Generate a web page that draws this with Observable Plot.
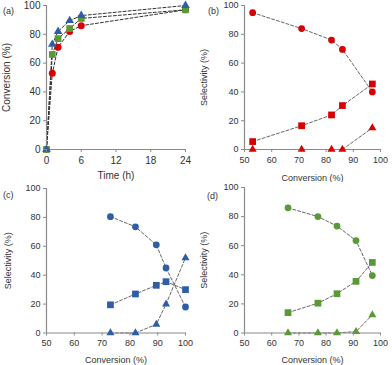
<!DOCTYPE html>
<html>
<head>
<meta charset="utf-8">
<script src="https://cdn.jsdelivr.net/npm/d3@7"></script>
<script src="https://cdn.jsdelivr.net/npm/@observablehq/plot@0.6"></script>
<style>
  html, body { margin: 0; padding: 0; background: #fff; }
  #wrap { position: relative; width: 392px; height: 365px; font-family: "Liberation Sans", Arial, sans-serif; }
  .pnl { position: absolute; }
  .tag { position: absolute; font-size: 9px; color: #333; }
</style>
</head>
<body>
<div id="wrap"></div>
<script>
// ---- data ----
const timeH = [0, 1, 2, 4, 6, 24];
const convRed = [0, 53, 71, 82, 86, 97];
const convGreen = [0, 66, 77, 84, 91, 97];
const convBlue = [0, 73, 82, 89.5, 93, 100];

// panel (b) red catalyst: x = conversion
const convB = [53, 71, 82, 86, 97];
const selB_circle = [95, 84, 76, 69.5, 40];
const selB_square = [5.5, 16.5, 24, 30.5, 45.5];
const selB_triangle = [0, 0, 0, 0, 15];

// panel (c) blue catalyst
const convC = [73, 82, 89.5, 93, 100];
const selC_circle = [80.5, 73.5, 61, 45, 18];
const selC_square = [19.5, 27, 33, 35.5, 30];
const selC_triangle = [0, 0, 6, 20, 52];

// panel (d) green catalyst
const convD = [66, 77, 84, 91, 97];
const selD_circle = [86, 80, 73.5, 63.5, 39.5];
const selD_square = [14, 20.5, 27, 35.5, 48.5];
const selD_triangle = [0, 0, 0, 1, 12.5];

const xTicksTime = [0, 6, 12, 18, 24];
const xTicksConv = [50, 60, 70, 80, 90, 100];
const yTicks = [0, 20, 40, 60, 80, 100];
const panelTags = ["(a)", "(b)", "(c)", "(d)"];

const RED = "#d90000", BLUE = "#2f5ea8", GREEN = "#5a9a36";
const AXIS = "#8a8a8a";
const TXT = "#333";

function panel(o) {
  const marks = [];
  for (const s of o.series) {
    const rows = o.xs.map((x, i) => ({x, y: s.values[i]}));
    marks.push(Plot.line(rows, {x: "x", y: "y", stroke: o.lineColor, strokeWidth: o.lineWidth, strokeDasharray: "3,2"}));
  }
  marks.push(Plot.ruleX([o.xDomain[0]], {y1: 0, y2: 100, stroke: AXIS, strokeWidth: 1.2}));
  marks.push(Plot.ruleY([0], {x1: o.xDomain[0], x2: o.xDomain[1], stroke: AXIS, strokeWidth: 1.2}));
  for (const s of o.series) {
    const rows = o.xs.map((x, i) => ({x, y: s.values[i]}));
    marks.push(Plot.dot(rows, {x: "x", y: "y", symbol: () => s.symbol, fill: s.color, r: s.r, stroke: "none"}));
  }
  marks.push(Plot.axisY({ticks: yTicks, tickSize: 3, tickPadding: 3, stroke: AXIS, fontSize: o.tickFont, color: TXT,
    label: o.yLabel, labelAnchor: "center", labelArrow: "none", labelOffset: o.yLabelOffset}));
  marks.push(Plot.axisX({ticks: o.xTicks, tickSize: 3, tickPadding: 4, stroke: AXIS, fontSize: o.tickFont, color: TXT,
    label: o.xLabel, labelAnchor: "center", labelArrow: "none", labelOffset: o.xLabelOffset}));
  const svg = Plot.plot({
    width: 196, height: o.height,
    marginLeft: o.ml, marginRight: o.mr, marginTop: o.mt, marginBottom: o.mb,
    style: {fontFamily: "Liberation Sans, Arial, sans-serif", fontSize: o.labelFont + "px", fontWeight: "400", color: TXT, background: "transparent"},
    x: {domain: o.xDomain},
    y: {domain: [0, 100]},
    marks
  });
  svg.classList.add("pnl");
  svg.style.left = o.left + "px";
  svg.style.top = o.top + "px";
  return svg;
}

const wrap = document.getElementById("wrap");

const sA = panel({
  left: 0, top: 0, height: 182, ml: 46, mr: 11, mt: 5, mb: 33,
  xs: timeH, xDomain: [0, 24], xTicks: xTicksTime, tickFont: 10, labelFont: 11,
  xLabel: "Time (h)", yLabel: "Conversion (%)", xLabelOffset: 29, yLabelOffset: 44,
  lineColor: "#333", lineWidth: 1,
  series: [
    {values: convRed, symbol: "circle", color: RED, r: 3.5},
    {values: convGreen, symbol: "square", color: GREEN, r: 3.8},
    {values: convBlue, symbol: "triangle", color: BLUE, r: 3.2}
  ]
});
wrap.appendChild(sA);

const common = {tickFont: 9, labelFont: 9, xLabel: "Conversion (%)", yLabel: "Selectivity (%)", lineColor: "#555", lineWidth: 0.9, xTicks: xTicksConv, xDomain: [50, 100]};

const sB = panel({...common, left: 196, top: 0, height: 182, ml: 48, mr: 12, mt: 5, mb: 33,
  xs: convB, xLabelOffset: 31, yLabelOffset: 44,
  series: [
    {values: selB_circle, symbol: "circle", color: RED, r: 3.4},
    {values: selB_square, symbol: "square", color: RED, r: 3.8},
    {values: selB_triangle, symbol: "triangle", color: RED, r: 3}
  ]});
wrap.appendChild(sB);

const sC = panel({...common, left: 0, top: 182, height: 183, ml: 46, mr: 11, mt: 6, mb: 32.5,
  xs: convC, xLabelOffset: 30, yLabelOffset: 42,
  series: [
    {values: selC_circle, symbol: "circle", color: BLUE, r: 3.4},
    {values: selC_square, symbol: "square", color: BLUE, r: 3.8},
    {values: selC_triangle, symbol: "triangle", color: BLUE, r: 3}
  ]});
wrap.appendChild(sC);

const sD = panel({...common, left: 196, top: 182, height: 183, ml: 48, mr: 12, mt: 5, mb: 32.5,
  xs: convD, xLabelOffset: 30, yLabelOffset: 44,
  series: [
    {values: selD_circle, symbol: "circle", color: GREEN, r: 3.4},
    {values: selD_square, symbol: "square", color: GREEN, r: 3.8},
    {values: selD_triangle, symbol: "triangle", color: GREEN, r: 3}
  ]});
wrap.appendChild(sD);

const tagPos = [[3, 6], [208, 6], [3, 190], [207, 191]];
panelTags.forEach((t, i) => {
  const d = document.createElement("div");
  d.className = "tag";
  d.textContent = t;
  d.style.left = tagPos[i][0] + "px";
  d.style.top = tagPos[i][1] + "px";
  wrap.appendChild(d);
});
</script>
</body>
</html>
